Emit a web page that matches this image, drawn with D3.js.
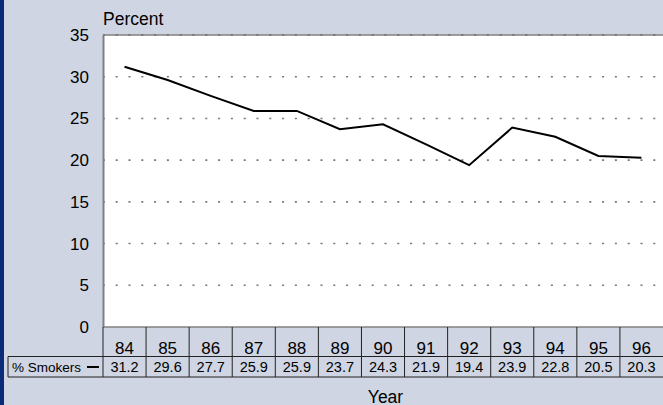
<!DOCTYPE html>
<html><head><meta charset="utf-8">
<script src="https://cdn.jsdelivr.net/npm/d3@7"></script>
<style>
html,body{margin:0;padding:0;background:#cfd5e2;}
svg{display:block;font-family:"Liberation Sans",Arial,sans-serif;}
</style></head>
<body>
<svg id="c" width="663" height="405"></svg>
<script>
const years = ["84","85","86","87","88","89","90","91","92","93","94","95","96"];
const smokers = [31.2,29.6,27.7,25.9,25.9,23.7,24.3,21.9,19.4,23.9,22.8,20.5,20.3];
const yTicks = [0,5,10,15,20,25,30,35];
const seriesName = "% Smokers";

const svg = d3.select("#c");
const W = 663, H = 405;
const L = 103, R = 663, T = 35, B = 327;

svg.append("rect").attr("width", W).attr("height", H).attr("fill", "#cfd5e2");
svg.append("rect").attr("x", 0).attr("y", 0).attr("width", 4).attr("height", H).attr("fill", "#0b2a78");

const x = d3.scaleBand().domain(years).range([L, R]).padding(0);
const y = d3.scaleLinear().domain([0, 35]).range([B, T]);

// plot area
svg.append("rect").attr("x", L).attr("y", T).attr("width", R - L).attr("height", B - T).attr("fill", "#fff");

// gridlines
svg.append("g").selectAll("line").data(yTicks.filter(d => d > 0 && d < 35)).join("line")
  .attr("x1", L).attr("x2", R)
  .attr("y1", d => y(d)).attr("y2", d => y(d))
  .attr("stroke", "#777").attr("stroke-width", 1.6)
  .attr("stroke-dasharray", "2,10.8")
  .attr("stroke-dashoffset", -12.7);
svg.append("g").selectAll("line").data([35]).join("line")
  .attr("x1", L).attr("x2", R).attr("y1", y(35)).attr("y2", y(35))
  .attr("stroke", "#808080").attr("stroke-width", 1.5);
svg.append("g").selectAll("line").data([35]).join("line")
  .attr("x1", L).attr("x2", R).attr("y1", y(35)).attr("y2", y(35))
  .attr("stroke", "#555").attr("stroke-width", 1.2).attr("stroke-dasharray", "2,10.8").attr("stroke-dashoffset", -12.7);

// left axis
const yAxis = d3.axisLeft(y).tickValues(yTicks).tickSize(0).tickPadding(14);
const ga = svg.append("g").attr("transform", `translate(${L},0)`).call(yAxis);
ga.select(".domain").attr("stroke", "#808080").attr("stroke-width", 2);
ga.selectAll("text").attr("font-size", 17).attr("fill", "#000").attr("font-family", "Liberation Sans, Arial, sans-serif");

svg.append("text").attr("x", L).attr("y", 25).attr("font-size", 17.5).text("Percent");

// line
const line = d3.line().x((d, i) => x(years[i]) + x.bandwidth() / 2).y(d => y(d));
svg.append("path").datum(smokers).attr("d", line).attr("fill", "none")
  .attr("stroke", "#000").attr("stroke-width", 2).attr("stroke-linejoin", "miter");

// data table
const r1 = B, r2 = 356.5, r3 = 377;
const tbl = svg.append("g");
tbl.append("line").attr("x1", L).attr("x2", R).attr("y1", r1).attr("y2", r1).attr("stroke", "#808080").attr("stroke-width", 1.5);
tbl.append("line").attr("x1", 8).attr("x2", R).attr("y1", r2).attr("y2", r2).attr("stroke", "#222").attr("stroke-width", 1);
tbl.append("line").attr("x1", 8).attr("x2", R).attr("y1", r3).attr("y2", r3).attr("stroke", "#222").attr("stroke-width", 1);
tbl.append("line").attr("x1", 8).attr("x2", 8).attr("y1", r2).attr("y2", r3).attr("stroke", "#222").attr("stroke-width", 1);
tbl.selectAll("line.v").data(years).join("line").attr("class", "v")
  .attr("x1", d => x(d)).attr("x2", d => x(d)).attr("y1", r1).attr("y2", r3)
  .attr("stroke", "#222").attr("stroke-width", 1);
tbl.selectAll("text.yr").data(years).join("text").attr("class", "yr")
  .attr("x", d => x(d) + x.bandwidth() / 2).attr("y", 353.5).attr("text-anchor", "middle")
  .attr("font-size", 17).text(d => d);
tbl.selectAll("text.val").data(smokers).join("text").attr("class", "val")
  .attr("x", (d, i) => x(years[i]) + x.bandwidth() / 2).attr("y", 372).attr("text-anchor", "middle")
  .attr("font-size", 14.5).text(d => d.toFixed(1));
tbl.append("text").attr("x", 12).attr("y", 372).attr("font-size", 13.5).text(seriesName);
tbl.append("line").attr("x1", 87).attr("x2", 99).attr("y1", 367).attr("y2", 367).attr("stroke", "#000").attr("stroke-width", 2);

svg.append("text").attr("x", 385.5).attr("y", 402.5).attr("text-anchor", "middle").attr("font-size", 17.5).text("Year");
</script>
</body></html>
